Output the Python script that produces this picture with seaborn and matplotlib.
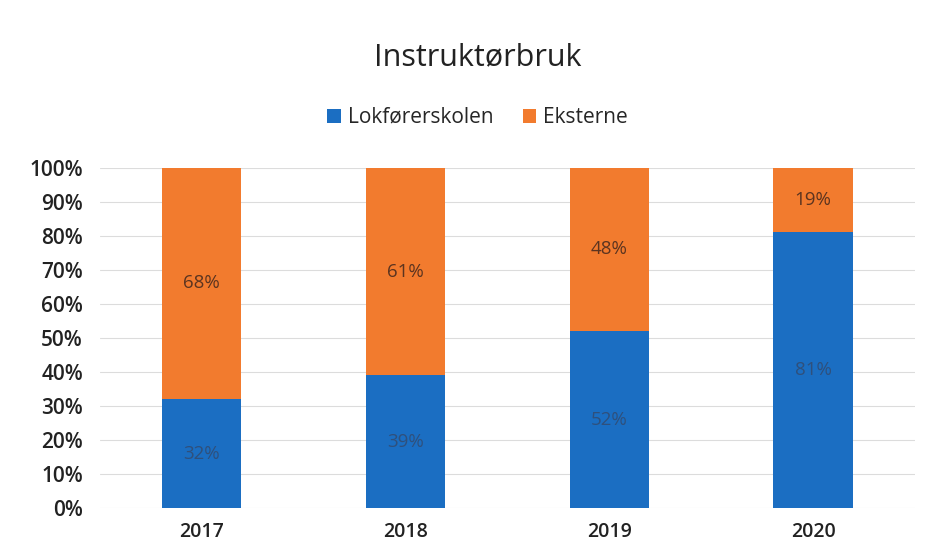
import matplotlib
matplotlib.use("Agg")
import matplotlib.pyplot as plt
import seaborn as sns
import pandas as pd
from matplotlib.ticker import PercentFormatter

# data
years = ["2017", "2018", "2019", "2020"]
lokforerskolen = [32, 39, 52, 81]
eksterne = [68, 61, 48, 19]

blue = "#1b6ec2"
orange = "#f27b2e"

sns.set_theme(style="white")
plt.rcParams["font.family"] = ["Open Sans", "DejaVu Sans"]

df = pd.DataFrame({"year": years, "lok": lokforerskolen, "ekst": eksterne})
df["total"] = df["lok"] + df["ekst"]

fig = plt.figure(figsize=(9.31, 5.59), dpi=100)
ax = fig.add_axes([0.107, 0.091, 0.876, 0.609])

# stacked: full bar in orange, then blue part on top of it
sns.barplot(data=df, x="year", y="total", color=orange, width=0.39,
            saturation=1, linewidth=0, ax=ax, label="Eksterne", zorder=2)
sns.barplot(data=df, x="year", y="lok", color=blue, width=0.39,
            saturation=1, linewidth=0, ax=ax, label="Lokførerskolen", zorder=3)

for i, row in df.iterrows():
    ax.text(i, row["lok"] / 2, f"{row['lok']}%", ha="center", va="center",
            fontsize=13.5, color="#2f507c", zorder=4)
    ax.text(i, row["lok"] + row["ekst"] / 2, f"{row['ekst']}%", ha="center",
            va="center", fontsize=13.5, color="#5b3420", zorder=4)

ax.set_ylim(0, 100)
ax.set_xlim(-0.5, 3.5)
ax.set_yticks(range(0, 101, 10))
ax.yaxis.set_major_formatter(PercentFormatter(decimals=0))
ax.grid(axis="y", color="#dcdcdc", linewidth=0.8, zorder=0)
ax.set_axisbelow(True)
sns.despine(ax=ax, left=True, bottom=True)
ax.set_xlabel("")
ax.set_ylabel("")
ax.tick_params(axis="y", labelsize=15, colors="#222222", length=0, pad=12)
ax.tick_params(axis="x", labelsize=14, colors="#222222", length=0, pad=10)
for t in ax.get_yticklabels() + ax.get_xticklabels():
    t.set_fontweight("semibold")

handles, labels = ax.get_legend_handles_labels()
order = [labels.index("Lokførerskolen"), labels.index("Eksterne")]
fig.legend([handles[k] for k in order], [labels[k] for k in order],
           loc="center", bbox_to_anchor=(0.513, 0.79), ncol=2, frameon=False,
           fontsize=15, handlelength=0.65, handleheight=0.65, columnspacing=1.4,
           handletextpad=0.35)
if ax.get_legend() is not None:
    ax.get_legend().remove()

fig.text(0.513, 0.898, "Instruktørbruk", ha="center", va="center",
         fontsize=22, color="#222222")

fig.savefig("out.png", dpi=100)
